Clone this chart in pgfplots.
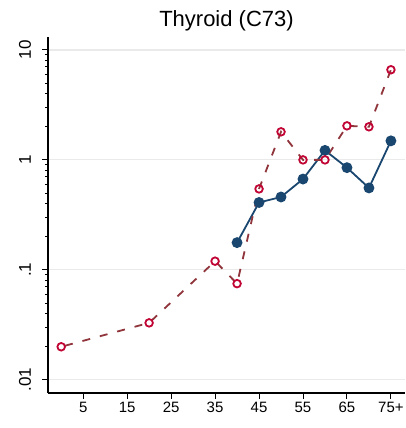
\documentclass[border=0pt]{standalone}
\usepackage{fontspec}
\setmainfont{Liberation Sans}
\usepackage{pgfplots}
\pgfplotsset{compat=1.18}

\definecolor{stnavy}{HTML}{1A476F}
\definecolor{stcran}{HTML}{C10534}
\definecolor{stmaroon}{HTML}{90353B}
\definecolor{gridgray}{HTML}{EAEAEA}

\begin{document}
\begin{tikzpicture}[x=1pt,y=1pt]
\begin{axis}[
  at={(48pt,35pt)}, anchor=south west,
  scale only axis,
  width=357pt, height=356pt,
  xmin=-3, xmax=78.2,
  ymode=log, ymin=0.0076, ymax=13.1,
  axis x line*=bottom, axis y line*=left,
  axis line style={line width=1.2pt, black},
  tick align=outside,
  major tick length=6pt,
  tick style={line width=1pt, black},
  xtick={5,15,25,35,45,55,65,75},
  xticklabels={5,15,25,35,45,55,65,75+},
  ytick={0.01,0.1,1,10},
  yticklabels={.01,.1,1,10},
  minor ytick={},
  ymajorgrids=true,
  grid style={line width=1.2pt, gridgray},
  xticklabel style={font=\fontsize{15}{15}\selectfont},
  yticklabel style={font=\fontsize{17}{17}\selectfont, xshift=-11pt, rotate=90, anchor=base},
  /pgf/number format/assume math mode=true,
  title={Thyroid (C73)},
  title style={font=\fontsize{22}{22}\selectfont, at={(0.5,1)}, anchor=base, yshift=5pt},
  clip=false,
]
% observed (solid, filled markers)
\addplot[color=stnavy, line width=1.8pt, mark=*, mark size=4.5pt,
  mark options={solid, fill=stnavy, draw=stnavy}]
  coordinates {
  (40,0.177)(45,0.41)(50,0.46)(55,0.67)(60,1.22)(65,0.85)(70,0.556)(75,1.49)
  };
% dashed series, open markers
\addplot[color=stmaroon, line width=1.8pt, dash pattern=on 8pt off 10pt, dash phase=-4pt,
  mark=o, mark size=3.8pt,
  mark options={solid, draw=stcran, fill=white, line width=1.8pt}]
  coordinates {
  (0,0.020)(20,0.033)(35,0.12)(40,0.075)(45,0.545)(50,1.8)(55,1.0)(60,1.0)(65,2.04)(70,2.0)(75,6.6)
  };
\end{axis}
\pgfresetboundingbox
\path (0,0) rectangle (405pt,428pt);
\end{tikzpicture}
\end{document}
